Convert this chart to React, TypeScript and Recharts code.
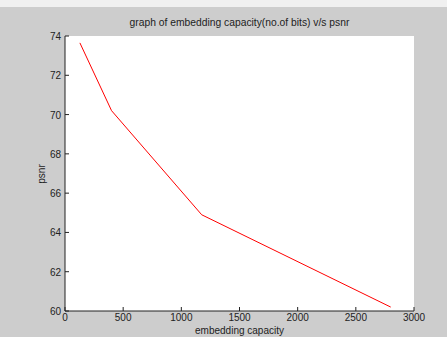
import { LineChart, Line, XAxis, YAxis, CartesianGrid } from 'recharts';

// embedding capacity (no. of bits) vs psnr
const capacity = [128, 400, 1175, 2800];
const psnr = [73.65, 70.2, 64.9, 60.2];

const xTicks = [0, 500, 1000, 1500, 2000, 2500, 3000];
const yTicks = [60, 62, 64, 66, 68, 70, 72, 74];

const data = capacity.map((x, i) => ({ x, psnr: psnr[i] }));

const FONT = 'Arial, "Liberation Sans", Helvetica, sans-serif';
const TICK_LEN = 4;

// ticks pointing into the plot, matlab style
const BottomTick = (props: any) => {
  const { x, y, payload } = props;
  return (
    <g>
      <line x1={x} x2={x} y1={y} y2={y - TICK_LEN} stroke="#222" />
      <text x={x} y={y + 10} textAnchor="middle" fontSize={10} fontFamily={FONT} fill="#222">
        {payload.value}
      </text>
    </g>
  );
};

const LeftTick = (props: any) => {
  const { x, y, payload } = props;
  return (
    <g>
      <line x1={x} x2={x + TICK_LEN} y1={y} y2={y} stroke="#222" />
      <text x={x - 4} y={y + 4} textAnchor="end" fontSize={10} fontFamily={FONT} fill="#222">
        {payload.value}
      </text>
    </g>
  );
};

const TopTick = (props: any) => {
  const { x, y } = props;
  return <line x1={x} x2={x} y1={y} y2={y + TICK_LEN} stroke="#222" />;
};

const RightTick = (props: any) => {
  const { x, y } = props;
  return <line x1={x} x2={x - TICK_LEN} y1={y} y2={y} stroke="#777" />;
};

export default function App() {
  return (
    <div style={{ position: 'absolute', left: 0, top: 0, width: 447, height: 337, background: '#cdcdcd', overflow: 'hidden' }}>
      <div style={{ position: 'absolute', left: 0, top: 0, width: 447, height: 7, background: '#f0f0f0' }} />
      <LineChart width={447} height={337} data={data} margin={{ top: 36, right: 33, left: 0, bottom: 0 }}>
        <CartesianGrid stroke="none" fill="#ffffff" />
        <XAxis
          dataKey="x"
          type="number"
          domain={[0, 3000]}
          ticks={xTicks}
          height={26}
          tickSize={0}
          tickMargin={0}
          tickLine={false}
          tick={<BottomTick />}
          axisLine={{ stroke: '#222' }}
          interval={0}
        />
        <XAxis
          xAxisId="top"
          orientation="top"
          dataKey="x"
          type="number"
          domain={[0, 3000]}
          ticks={xTicks}
          height={0}
          tickSize={0}
          tickMargin={0}
          tickLine={false}
          tick={<TopTick />}
          axisLine={{ stroke: '#222' }}
          interval={0}
        />
        <YAxis
          type="number"
          domain={[60, 74]}
          ticks={yTicks}
          width={65}
          tickSize={0}
          tickMargin={0}
          tickLine={false}
          tick={<LeftTick />}
          axisLine={{ stroke: '#222' }}
          interval={0}
        />
        <YAxis
          yAxisId="right"
          orientation="right"
          type="number"
          domain={[60, 74]}
          ticks={yTicks}
          width={0}
          tickSize={0}
          tickMargin={0}
          tickLine={false}
          tick={<RightTick />}
          axisLine={{ stroke: '#888', strokeWidth: 2 }}
          interval={0}
        />
        <Line
          type="linear"
          dataKey="psnr"
          stroke="#ff0000"
          strokeWidth={1}
          dot={false}
          activeDot={false}
          isAnimationActive={false}
        />
      </LineChart>
      <div style={{ position: 'absolute', left: 65, width: 349, top: 17, textAlign: 'center', fontFamily: FONT, fontSize: 10.3, color: '#222', whiteSpace: 'nowrap' }}>
        graph of embedding capacity(no.of bits) v/s psnr
      </div>
      <div style={{ position: 'absolute', left: 65, width: 349, top: 326, lineHeight: '10px', textAlign: 'center', fontFamily: FONT, fontSize: 10, color: '#222', whiteSpace: 'nowrap' }}>
        embedding capacity
      </div>
      <div style={{ position: 'absolute', left: 41, top: 174, transform: 'translate(-50%, -50%) rotate(-90deg)', fontFamily: FONT, fontSize: 10, color: '#222', whiteSpace: 'nowrap' }}>
        psnr
      </div>
    </div>
  );
}
